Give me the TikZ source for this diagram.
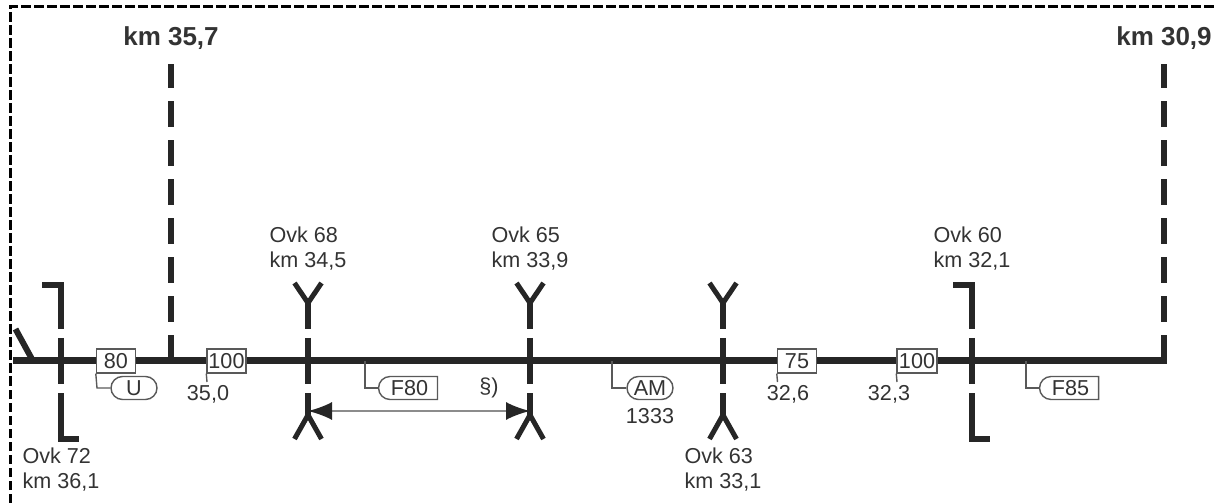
\documentclass[tikz,border=0pt]{standalone}
\usepackage{fontspec}
\setmainfont{Liberation Sans}
\usetikzlibrary{arrows.meta,shapes.misc}
\definecolor{trkc}{rgb}{0.15,0.15,0.15}
\definecolor{txtc}{rgb}{0.2,0.2,0.2}
\definecolor{ledc}{rgb}{0.35,0.35,0.35}
\definecolor{arwc}{rgb}{0.55,0.55,0.55}
\begin{document}
\begin{tikzpicture}[node distance=10pt,
  every node/.style={font=\fontsize{10.8}{12.5}\selectfont, text=txtc},
  track/.style={draw=trkc, line width=3.5pt},
  pole/.style={draw=trkc, line width=3pt, dash pattern=on 13pt off 6.5pt},
  stem/.style={draw=trkc, line width=2.75pt, dash pattern=on 13pt off 4.5pt on 23pt off 4.5pt on 13pt},
  fork/.style={draw=trkc, line width=2.5pt},
  bracket/.style={draw=trkc, line width=3pt, dash pattern=on 31.25pt off 4.5pt on 23pt off 4.5pt on 50pt},
  lead/.style={draw=ledc, line width=0.7pt},
  block/.style={rectangle, draw=ledc, fill=white, line width=0.7pt, minimum width=19.5pt, minimum height=12pt, inner sep=0pt},
  tagnode/.style={rounded rectangle, draw=ledc, fill=white, line width=0.7pt, minimum width=23pt, minimum height=11.5pt, inner sep=0pt},
  flagnode/.style={tagnode, rounded rectangle right arc=none, minimum width=29.5pt},
  kmnode/.style={font=\fontsize{13}{15}\selectfont\bfseries},
  ovknode/.style={align=left, inner sep=0pt}]

    \useasboundingbox (-6.5pt,-71pt) rectangle (601.5pt,180.5pt);

    \node[coordinate] (trackL) {};
    \node[coordinate, right of=trackL, node distance=24pt] (ovk72) {};
    \node[block, right of=ovk72, node distance=27.5pt] (v80) {80};
    \node[coordinate, right of=v80, node distance=27.5pt] (km357) {};
    \node[block, right of=km357, node distance=27.75pt] (v100a) {100};
    \node[coordinate, right of=v100a, node distance=40.75pt] (ovk68) {};
    \node[coordinate, right of=ovk68, node distance=28.5pt] (stubF80) {};
    \node[coordinate, right of=ovk68, node distance=111pt] (ovk65) {};
    \node[coordinate, right of=ovk65, node distance=41pt] (stubAM) {};
    \node[coordinate, right of=stubAM, node distance=55.5pt] (ovk63) {};
    \node[block, right of=ovk63, node distance=37pt] (v75) {75};
    \node[block, right of=v75, node distance=60pt, minimum width=20pt] (v100b) {100};
    \node[coordinate, right of=v100b, node distance=27.5pt] (ovk60) {};
    \node[coordinate, right of=ovk60, node distance=27pt] (stubF85) {};
    \node[coordinate, right of=stubF85, node distance=69pt] (km309) {};
    \node[coordinate, right of=km309, node distance=1.5pt] (trackR) {};
    \node[coordinate, above of=trackL, node distance=16pt, xshift=1.25pt] (branch) {};
    \node[coordinate, right of=trackL, node distance=10pt] (branchEnd) {};

    \node[coordinate] (frameSW) at (-1.5pt,-71pt) {};
    \node[coordinate] (frameNE) at (601.5pt,177pt) {};

    \node[coordinate, above of=km357, node distance=148.5pt] (km357top) {};
    \node[coordinate, above of=km309, node distance=148.5pt] (km309top) {};
    \node[kmnode, above of=km357, node distance=161.5pt] {km 35,7};
    \node[kmnode, above of=km309, node distance=161.5pt] {km 30,9};

    \node[coordinate, above of=ovk72, node distance=37.75pt] (ovk72N) {};
    \node[coordinate, below of=ovk72, node distance=39pt] (ovk72S) {};
    \node[coordinate, left of=ovk72N, node distance=9.5pt] (ovk72NE) {};
    \node[coordinate, right of=ovk72S, node distance=9pt] (ovk72SE) {};
    \node[coordinate, above of=ovk60, node distance=37.75pt] (ovk60N) {};
    \node[coordinate, below of=ovk60, node distance=39pt] (ovk60S) {};
    \node[coordinate, left of=ovk60N, node distance=9.5pt] (ovk60NE) {};
    \node[coordinate, right of=ovk60S, node distance=9pt] (ovk60SE) {};

    \node[coordinate, above of=ovk68, node distance=29pt] (ovk68N) {};
    \node[coordinate, below of=ovk68, node distance=27pt] (ovk68S) {};
    \node[coordinate, above of=ovk65, node distance=29pt] (ovk65N) {};
    \node[coordinate, below of=ovk65, node distance=27pt] (ovk65S) {};
    \node[coordinate, above of=ovk63, node distance=29pt] (ovk63N) {};
    \node[coordinate, below of=ovk63, node distance=27pt] (ovk63S) {};
    \node[coordinate, below of=ovk68, node distance=25pt] (spanL) {};
    \node[coordinate, below of=ovk65, node distance=25pt] (spanR) {};

    \node[ovknode, below of=ovk72, node distance=54.5pt] {Ovk 72\\km 36,1};
    \node[ovknode, above of=ovk68, node distance=56pt] {Ovk 68\\km 34,5};
    \node[ovknode, above of=ovk65, node distance=56pt] {Ovk 65\\km 33,9};
    \node[ovknode, below of=ovk63, node distance=54.5pt] {Ovk 63\\km 33,1};
    \node[ovknode, above of=ovk60, node distance=56pt] {Ovk 60\\km 32,1};

    \node[coordinate, below of=v80, node distance=13.5pt, xshift=-9.5pt] (kneeU) {};
    \node[tagnode, right of=kneeU, node distance=18.5pt] (tagU) {U};
    \node[coordinate, below of=stubF80, node distance=13.5pt] (kneeF80) {};
    \node[flagnode, right of=kneeF80, node distance=22.25pt] (tagF80) {F80};
    \node[coordinate, below of=stubAM, node distance=13.5pt] (kneeAM) {};
    \node[tagnode, right of=kneeAM, node distance=19pt] (tagAM) {AM};
    \node[below of=tagAM, node distance=14.25pt] {1333};
    \node[coordinate, below of=stubF85, node distance=13.5pt] (kneeF85) {};
    \node[flagnode, right of=kneeF85, node distance=22.25pt] (tagF85) {F85};

    \node[coordinate, below of=v100a, node distance=10.5pt, xshift=-9.75pt] (tick350) {};
    \node[coordinate, below of=v75, node distance=10.5pt, xshift=-9.75pt] (tick326) {};
    \node[coordinate, below of=v100b, node distance=10.5pt, xshift=-10pt] (tick323) {};
    \node[below of=v100a, node distance=16.5pt, xshift=-9.25pt] {35,0};
    \node[below of=v75, node distance=16.5pt, xshift=-4.5pt] {32,6};
    \node[below of=v100b, node distance=16.5pt, xshift=-14pt] {32,3};
    \node[below of=ovk65, node distance=13.5pt, xshift=-20.5pt] {§)};

    \draw[draw=black, line width=1.5pt, dash pattern=on 4.75pt off 1.75pt] (frameSW) |- (frameNE);

    \draw[track] (trackL) -- (v80) -- (v100a) -- (v75) -- (v100b) -- (trackR);
    \draw[draw=trkc, line width=3pt] (branch) -- (branchEnd);
    \draw[pole] (km357) -- (km357top);
    \draw[pole] (km309) -- (km309top);

    \draw[bracket] (ovk72NE) -- (ovk72N) -- (ovk72S) -- (ovk72SE);
    \draw[bracket] (ovk60NE) -- (ovk60N) -- (ovk60S) -- (ovk60SE);

    \draw[stem] (ovk68N) -- (ovk68S);
    \draw[stem] (ovk65N) -- (ovk65S);
    \draw[stem, line width=3pt] (ovk63N) -- (ovk63S);
    \draw[fork] (ovk68N) ++(-6.75pt,10pt) -- (ovk68N) -- ++(6.75pt,10pt);
    \draw[fork] (ovk68S) ++(-6.75pt,-12pt) -- (ovk68S) -- ++(6.75pt,-12pt);
    \draw[fork] (ovk65N) ++(-6.75pt,10pt) -- (ovk65N) -- ++(6.75pt,10pt);
    \draw[fork] (ovk65S) ++(-6.75pt,-12pt) -- (ovk65S) -- ++(6.75pt,-12pt);
    \draw[fork] (ovk63N) ++(-6.75pt,10pt) -- (ovk63N) -- ++(6.75pt,10pt);
    \draw[fork] (ovk63S) ++(-6.75pt,-12pt) -- (ovk63S) -- ++(6.75pt,-12pt);

    \draw[{Latex[length=12pt,width=9pt,color=trkc]}-{Latex[length=12pt,width=9pt,color=trkc]}, draw=arwc, line width=1pt] (spanL) -- (spanR);

    \draw[lead] (v80.south west) -- (kneeU) -- (tagU);
    \draw[lead] (stubF80) -- (kneeF80) -- (tagF80);
    \draw[lead] (stubAM) -- (kneeAM) -- (tagAM);
    \draw[lead] (stubF85) -- (kneeF85) -- (tagF85);
    \draw[lead] (v100a.south west) -- (tick350);
    \draw[lead] (v75.south west) -- (tick326);
    \draw[lead] (v100b.south west) -- (tick323);

  \end{tikzpicture}
\end{document}
